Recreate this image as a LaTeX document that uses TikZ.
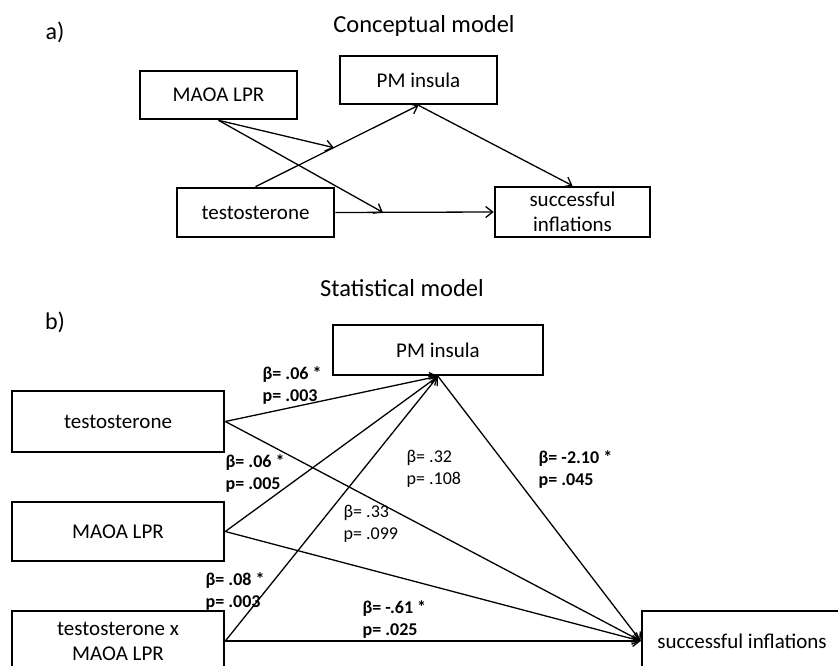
\documentclass[tikz,border=0pt]{standalone}
\usepackage{fontspec}
\setmainfont{Carlito}
\usetikzlibrary{arrows.meta,calc}

\begin{document}
\begin{tikzpicture}[x=1pt,y=-1pt,->,>={Straight Barb[length=7pt,width=11pt]},
  line width=1.3pt,
  box/.style={draw,line width=2.6pt,rectangle,align=center,inner sep=2pt,
    font=\fontsize{21}{25}\selectfont},
  coef/.style={anchor=north west,inner sep=0pt,align=left,
    font=\fontsize{18}{21.5}\selectfont\bfseries},
  coefns/.style={coef,font=\fontsize{18}{21.5}\selectfont},
  title/.style={font=\fontsize{24.5}{28}\selectfont}]

  \useasboundingbox (0,0) rectangle (838,666);

  % a) conceptual model
  \node[font=\fontsize{24}{28}\selectfont] (la) at (55,32) {a)};
  \node[title] (ta) at (424,26) {Conceptual model};
  \node[box,minimum width=157pt,minimum height=48pt] (maoa1) at (218.5,95) {MAOA LPR};
  \node[box,minimum width=157pt,minimum height=48pt] (pm1) at (418.5,80) {PM insula};
  \node[box,minimum width=157pt,minimum height=49pt] (tst1) at (255.5,212.5) {testosterone};
  \node[box,minimum width=155pt,minimum height=50pt] (succ1) at (572.5,212) {successful\\inflations};

  \coordinate (m1) at ($(tst1.north)!0.48!(pm1.south)$);
  \coordinate (m2) at ($(tst1.east)!0.3!(succ1.west)$);

  \draw (maoa1.south) -- (m1);
  \draw (maoa1.south) -- (m2);
  \draw (tst1.north) -- (pm1.south);
  \draw (pm1.south) -- (succ1.north);
  \draw (tst1.east) -- (succ1.west);

  % b) statistical model
  \node[font=\fontsize{24}{28}\selectfont] (lb) at (55,322) {b)};
  \node[title] (tb) at (402,288) {Statistical model};
  \node[box,minimum width=210pt,minimum height=50pt] (pm2) at (438,350) {PM insula};
  \node[box,minimum width=212pt,minimum height=61pt] (tst2) at (118,421.5) {testosterone};
  \node[box,minimum width=212pt,minimum height=59pt] (maoa2) at (118,531.5) {MAOA LPR};
  \node[box,minimum width=212pt,minimum height=60pt] (txm2) at (118,641) {testosterone x\\MAOA LPR};
  \node[box,minimum width=200pt,minimum height=60pt] (succ2) at (742,641) {successful inflations};

  \foreach \src in {tst2,maoa2,txm2} {
    \draw (\src.east) -- (pm2.south);
    \draw (\src.east) -- (succ2.west);
  }
  \draw (pm2.south) -- (succ2.west);

  % path coefficients
  \node[coef] (c1) at (262,366) {β= .06 *\\p= .003};
  \node[coef] (c2) at (225,454) {β= .06 *\\p= .005};
  \node[coefns] (c3) at (406,450) {β= .32\\p= .108};
  \node[coefns] (c4) at (343,505) {β= .33\\p= .099};
  \node[coef] (c5) at (205,572) {β= .08 *\\p= .003};
  \node[coef] (c6) at (362,600) {β= -.61 *\\p= .025};
  \node[coef] (c7) at (538,450) {β= -2.10 *\\p= .045};
\end{tikzpicture}
\end{document}
